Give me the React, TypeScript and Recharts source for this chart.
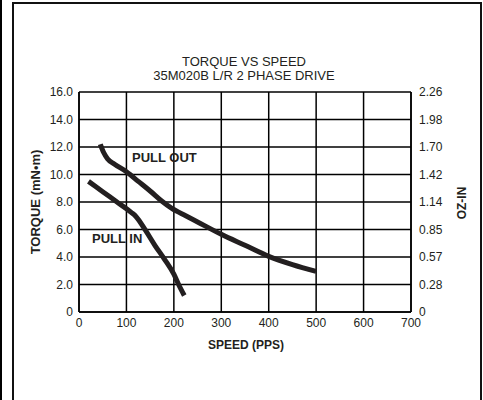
import React from "react";
import { LineChart, Line, XAxis, YAxis, CartesianGrid } from "recharts";

// Speed ticks (PPS)
const speedTicks = [0, 100, 200, 300, 400, 500, 600, 700];
// Torque ticks (mN·m)
const torqueTicks = [0, 2, 4, 6, 8, 10, 12, 14, 16];
const torqueLabels = ["0", "2.0", "4.0", "6.0", "8.0", "10.0", "12.0", "14.0", "16.0"];
// Right axis labels (oz-in)
const ozInLabels = ["0", "0.28", "0.57", "0.85", "1.14", "1.42", "1.70", "1.98", "2.26"];

// Pull-out curve
const pullOutSpeed = [45, 52, 60, 75, 100, 125, 150, 175, 195, 225, 250, 300, 350, 400, 450, 500];
const pullOutTorque = [12.2, 11.6, 11.15, 10.75, 10.2, 9.5, 8.8, 8.05, 7.55, 7.0, 6.55, 5.65, 4.85, 4.05, 3.45, 2.95];

// Pull-in curve
const pullInSpeed = [20, 50, 80, 110, 120, 140, 160, 180, 200, 210, 222];
const pullInTorque = [9.5, 8.75, 8.0, 7.25, 6.95, 5.95, 4.85, 3.85, 2.75, 2.0, 1.2];

const pullOutData = pullOutSpeed.map((s, i) => ({ speed: s, torque: pullOutTorque[i] }));
const pullInData = pullInSpeed.map((s, i) => ({ speed: s, torque: pullInTorque[i] }));

const FONT = "'Liberation Sans', Arial, sans-serif";
const INK = "#231f20";

const txt = (extra: React.CSSProperties): React.CSSProperties => ({
  position: "absolute",
  fontFamily: FONT,
  color: INK,
  whiteSpace: "nowrap",
  ...extra,
});

export default function App() {
  const tickStyle = { fill: INK, fontSize: 12, fontFamily: FONT };
  return (
    <div style={{ position: "absolute", left: 0, top: 0, width: 483, height: 400, overflow: "hidden", background: "#fff" }}>
      {/* left black edge */}
      <div style={{ position: "absolute", left: 0, top: 0, width: 2, height: 400, background: "#000" }} />
      {/* frame */}
      <div
        style={{
          position: "absolute",
          left: 12,
          top: 2,
          width: 466,
          height: 410,
          borderTop: "2px solid #111",
          borderLeft: "2px solid #111",
          borderRight: "2px solid #111",
        }}
      />
      <div style={{ position: "absolute", left: 0, top: 0 }}>
        <LineChart width={483} height={400} margin={{ top: 92, right: 0, bottom: 58, left: 0 }}>
          <XAxis
            type="number"
            dataKey="speed"
            domain={[0, 700]}
            ticks={speedTicks}
            allowDataOverflow
            height={30}
            tickLine={false}
            tickSize={4}
            tickMargin={2}
            axisLine={{ stroke: "#000", strokeWidth: 1.5 }}
            tick={tickStyle}
            interval={0}
          />
          <YAxis
            yAxisId="left"
            type="number"
            domain={[0, 16]}
            ticks={torqueTicks}
            width={79}
            tickLine={false}
            tickSize={4}
            tickMargin={2}
            axisLine={{ stroke: "#000", strokeWidth: 1.5 }}
            tick={tickStyle}
            interval={0}
            tickFormatter={(v: number) => torqueLabels[torqueTicks.indexOf(v)] ?? String(v)}
          />
          <YAxis
            yAxisId="right"
            orientation="right"
            type="number"
            domain={[0, 16]}
            ticks={torqueTicks}
            width={72}
            tickLine={false}
            tickSize={6}
            tickMargin={2}
            axisLine={{ stroke: "#000", strokeWidth: 1.5 }}
            tick={tickStyle}
            interval={0}
            tickFormatter={(v: number) => ozInLabels[torqueTicks.indexOf(v)] ?? String(v)}
          />
          <CartesianGrid yAxisId="left" stroke="#000" strokeWidth={1.5} fill="none" />
          <Line
            yAxisId="left"
            data={pullOutData}
            dataKey="torque"
            type="monotone"
            stroke={INK}
            strokeWidth={5}
            dot={false}
            isAnimationActive={false}
          />
          <Line
            yAxisId="right"
            data={pullInData}
            dataKey="torque"
            type="monotone"
            stroke={INK}
            strokeWidth={5}
            dot={false}
            isAnimationActive={false}
          />
        </LineChart>
      </div>
      {/* titles */}
      <div style={txt({ left: 244, top: 54, transform: "translateX(-50%)", fontSize: 13, lineHeight: "15px" })}>
        TORQUE VS SPEED
      </div>
      <div style={txt({ left: 244, top: 67.5, transform: "translateX(-50%)", fontSize: 13, lineHeight: "15px" })}>
        35M020B L/R 2 PHASE DRIVE
      </div>
      {/* annotations */}
      <div style={txt({ left: 132, top: 150, fontSize: 13, fontWeight: "bold", lineHeight: "16px" })}>PULL OUT</div>
      <div style={txt({ left: 92, top: 231, fontSize: 13, fontWeight: "bold", lineHeight: "16px" })}>PULL IN</div>
      {/* axis titles */}
      <div style={txt({ left: 246, top: 345, transform: "translate(-50%,-50%)", fontSize: 12, fontWeight: "bold", lineHeight: "14px" })}>
        SPEED (PPS)
      </div>
      <div
        style={txt({ left: 35, top: 202, transform: "translate(-50%,-50%) rotate(-90deg)", fontSize: 13, fontWeight: "bold", lineHeight: "15px" })}
      >
        TORQUE (mN•m)
      </div>
      <div
        style={txt({ left: 462, top: 203, transform: "translate(-50%,-50%) rotate(-90deg)", fontSize: 12, fontWeight: "bold", lineHeight: "14px" })}
      >
        OZ-IN
      </div>
    </div>
  );
}
